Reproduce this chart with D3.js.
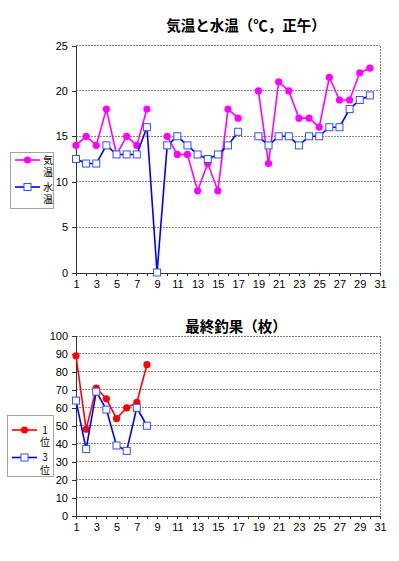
<!DOCTYPE html>
<html><head><meta charset="utf-8">
<script src="https://cdn.jsdelivr.net/npm/d3@7"></script>
<style>
body{margin:0;background:#fff;}
svg{display:block;}
.tick text{font-family:"Liberation Sans",Arial,sans-serif;font-size:11px;fill:#000;}
.vlab{writing-mode:vertical-rl;text-orientation:upright;}
</style></head>
<body><svg id="c" width="399" height="561"></svg>
<script>
// ---- data ----
const days = [1,2,3,4,5,6,7,8,9,10,11,12,13,14,15,16,17,18,19,20,21,22,23,24,25,26,27,28,29,30];
const airTemp = [14,15,14,18,13,15,14,18,null,15,13,13,9,12,9,18,17,null,20,12,21,20,17,17,16,21.5,19,19,22,22.5];
const waterTemp = [12.5,12,12,14,13,13,13,16,0,14,15,14,13,12.5,13,14,15.5,null,15,14,15,15,14,15,15,16,16,18,19,19.5];
const catchDays = [1,2,3,4,5,6,7,8];
const catchFirst = [89,48,71,65,54,60,63,84];
const catchThird = [64,37,69,59,39,36,60,50];
const xTickLabels = [1,3,5,7,9,11,13,15,17,19,21,23,25,27,29,31];
const tempTicks = [0,5,10,15,20,25];
const catchTicks = [0,10,20,30,40,50,60,70,80,90,100];
const title1 = "気温と水温（℃，正午）";
const title2 = "最終釣果（枚）";
const legend1 = ["気温","水温"];
const legend2 = ["1位","3位"];

const svg = d3.select("#c");
const cjk = '"Noto Sans CJK JP","Noto Sans",sans-serif';

function chart(cfg){
  const x = d3.scaleLinear().domain([1,31]).range([76,380]);
  const y = d3.scaleLinear().domain(cfg.yDomain).range([cfg.y0, cfg.y1]);
  const g = svg.append("g");
  // grid
  g.selectAll("line.grid").data(cfg.yTicks.filter(d=>d>0)).enter().append("line")
    .attr("x1",76).attr("x2",380).attr("y1",d=>y(d)).attr("y2",d=>y(d))
    .attr("stroke","#8a8a8a").attr("stroke-width",1).attr("stroke-dasharray","2,1").attr("shape-rendering","crispEdges");
  // top & right border
  g.append("line").attr("x1",76).attr("x2",380).attr("y1",cfg.y1).attr("y2",cfg.y1)
    .attr("stroke","#808080").attr("stroke-dasharray","2,1").attr("shape-rendering","crispEdges");
  g.append("line").attr("x1",380).attr("x2",380).attr("y1",cfg.y1).attr("y2",cfg.y0)
    .attr("stroke","#808080").attr("stroke-dasharray","2,1").attr("shape-rendering","crispEdges");
  // axes
  const ya = g.append("g").attr("transform","translate(76,0)")
    .call(d3.axisLeft(y).tickValues(cfg.yTicks).tickSize(4).tickPadding(4));
  const xa = g.append("g").attr("transform",`translate(0,${cfg.y0})`)
    .call(d3.axisBottom(x).tickValues(d3.range(1,32)).tickSize(3).tickPadding(5)
      .tickFormat(d=>xTickLabels.includes(d)?d:""));
  [ya,xa].forEach(a=>{a.selectAll("path,line").attr("stroke","#333").attr("shape-rendering","crispEdges");});
  // title
  g.append("text").attr("x",cfg.titleX).attr("y",cfg.titleY).attr("text-anchor","middle")
    .attr("font-family",cjk).attr("font-weight","bold").attr("font-size",14.5).text(cfg.title);
  // series
  cfg.series.forEach(s=>{
    const pts = cfg.xs.map((d,i)=>({d, v:s.values[i]}));
    const line = d3.line().defined(p=>p.v!==null).x(p=>x(p.d)).y(p=>y(p.v));
    g.append("path").datum(pts).attr("d",line).attr("fill","none")
      .attr("stroke",s.color).attr("stroke-width",1.6);
    const m = g.selectAll(null).data(pts.filter(p=>p.v!==null)).enter();
    if(s.marker==="circle"){
      m.append("circle").attr("cx",p=>x(p.d)).attr("cy",p=>y(p.v)).attr("r",3.6).attr("fill",s.color);
    } else {
      m.append("rect").attr("x",p=>x(p.d)-3.5).attr("y",p=>y(p.v)-3.5).attr("width",7).attr("height",7)
        .attr("fill","#fff").attr("stroke","#3050ff").attr("stroke-width",1);
    }
  });
  // legend
  const L = cfg.legend;
  g.append("rect").attr("x",L.x+0.5).attr("y",L.y+0.5).attr("width",L.w).attr("height",L.h)
    .attr("fill","#fff").attr("stroke","#444").attr("stroke-dasharray","1,1");
  cfg.series.forEach((s,i)=>{
    const ly = L.rows[i];
    g.append("line").attr("x1",L.x+5).attr("x2",L.x+30).attr("y1",ly).attr("y2",ly)
      .attr("stroke",s.color).attr("stroke-width",1.6);
    if(s.marker==="circle") g.append("circle").attr("cx",L.x+17.5).attr("cy",ly).attr("r",3.6).attr("fill",s.color);
    else g.append("rect").attr("x",L.x+14).attr("y",ly-3.5).attr("width",7).attr("height",7)
      .attr("fill","#fff").attr("stroke","#3050ff");
    g.append("text").attr("class","vlab").attr("x",L.x+38).attr("y",ly-5)
      .attr("font-family",cjk).attr("font-size",10).attr("letter-spacing",2.5).text(s.label);
  });
}

chart({
  yDomain:[0,25], y0:272.5, y1:45.5, yTicks:tempTicks, xs:days,
  title:title1, titleX:246, titleY:31,
  series:[
    {values:airTemp,color:"#ff00ff",marker:"circle",label:legend1[0]},
    {values:waterTemp,color:"#0000ff",marker:"square",label:legend1[1]}
  ],
  legend:{x:10,y:152,w:43,h:56,rows:[160,187]}
});
chart({
  yDomain:[0,100], y0:515.5, y1:336, yTicks:catchTicks, xs:catchDays,
  title:title2, titleX:236, titleY:332,
  series:[
    {values:catchFirst,color:"#ff0000",marker:"circle",label:legend2[0]},
    {values:catchThird,color:"#0000ff",marker:"square",label:legend2[1]}
  ],
  legend:{x:7,y:415,w:46,h:61,rows:[430,457.5]}
});
</script></body></html>
